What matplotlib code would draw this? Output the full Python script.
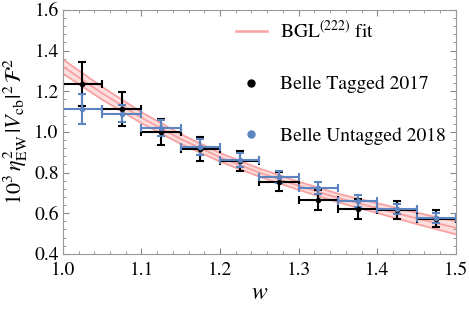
import numpy as np
import matplotlib.pyplot as plt
from matplotlib.ticker import MultipleLocator
from matplotlib.lines import Line2D

plt.rcParams['font.family'] = 'STIXGeneral'
plt.rcParams['mathtext.fontset'] = 'stix'

# bins in w
w_lo = [1.00, 1.05, 1.10, 1.15, 1.20, 1.25, 1.30, 1.35, 1.40, 1.45]
w_hi = [1.05, 1.10, 1.15, 1.20, 1.25, 1.30, 1.35, 1.40, 1.45, 1.50]

# Belle tagged 2017
tag_val = [1.236, 1.113, 1.000, 0.916, 0.857, 0.754, 0.665, 0.621, 0.616, 0.572]
tag_err = [0.110, 0.085, 0.065, 0.060, 0.050, 0.047, 0.047, 0.047, 0.042, 0.042]

# Belle untagged 2018
unt_val = [1.112, 1.090, 1.018, 0.926, 0.860, 0.779, 0.724, 0.660, 0.621, 0.577]
unt_err = [0.075, 0.040, 0.040, 0.040, 0.035, 0.030, 0.030, 0.030, 0.025, 0.025]

# BGL(222) fit band
fit_w = [1.00, 1.05, 1.10, 1.15, 1.20, 1.25, 1.30, 1.35, 1.40, 1.45, 1.50]
fit_c = [1.322, 1.190, 1.070, 0.965, 0.875, 0.800, 0.735, 0.675, 0.625, 0.575, 0.528]
fit_e = [0.035, 0.031, 0.027, 0.024, 0.021, 0.020, 0.020, 0.021, 0.024, 0.028, 0.032]

pink = '#f7a1a1'
blue = '#5b84c0'

w_lo = np.array(w_lo); w_hi = np.array(w_hi)
wc = (w_lo + w_hi) / 2
wx = (w_hi - w_lo) / 2
fc = np.array(fit_c); fe = np.array(fit_e)

fig = plt.figure(figsize=(4.69, 3.10), dpi=100)
ax = fig.add_axes([0.134, 0.181, 0.838, 0.787])

ax.fill_between(fit_w, fc - fe, fc + fe, color=pink, alpha=0.35, lw=0)
ax.plot(fit_w, fc + fe, color=pink, lw=1.3)
ax.plot(fit_w, fc - fe, color=pink, lw=1.3)
ax.plot(fit_w, fc, color=pink, lw=1.3)

ax.errorbar(wc, tag_val, xerr=wx, yerr=tag_err, fmt='o', ms=3, color='black',
            elinewidth=1.5, capsize=3, capthick=1.5)
ax.errorbar(wc, unt_val, xerr=wx, yerr=unt_err, fmt='o', ms=3, color=blue,
            elinewidth=1.5, capsize=3, capthick=1.5)

ax.set_xlim(1.0, 1.5)
ax.set_ylim(0.4, 1.6)
ax.xaxis.set_major_locator(MultipleLocator(0.1))
ax.xaxis.set_minor_locator(MultipleLocator(0.02))
ax.yaxis.set_major_locator(MultipleLocator(0.2))
ax.yaxis.set_minor_locator(MultipleLocator(0.04))
ax.xaxis.set_major_formatter(plt.FormatStrFormatter('%.1f'))
ax.yaxis.set_major_formatter(plt.FormatStrFormatter('%.1f'))
ax.tick_params(which='both', direction='in', top=True, right=True, color='#888888',
               labelsize=14)
ax.tick_params(axis='x', pad=6)
ax.tick_params(axis='y', pad=3)
ax.tick_params(which='major', length=4)
ax.tick_params(which='minor', length=2)
for s in ax.spines.values():
    s.set_color('#999999')

ax.set_xlabel(r'$w$', fontsize=17, labelpad=2)
ax.set_ylabel(r'$10^3\,\eta_{\rm EW}^2\,|V_{\rm cb}|^2\,\mathcal{F}^2$', fontsize=16, labelpad=3)

hh = [Line2D([], [], color=pink, lw=1.8),
      Line2D([], [], marker='o', ms=5, color='black', ls=''),
      Line2D([], [], marker='o', ms=5, color=blue, ls='')]
ll = [r'BGL$^{(222)}$ fit', 'Belle Tagged 2017', 'Belle Untagged 2018']
ax.legend(hh, ll, loc='upper right', frameon=False, fontsize=14,
          labelspacing=1.75, handlelength=1.6, handletextpad=0.7,
          borderaxespad=0.1)

fig.savefig('out.png', dpi=100)
